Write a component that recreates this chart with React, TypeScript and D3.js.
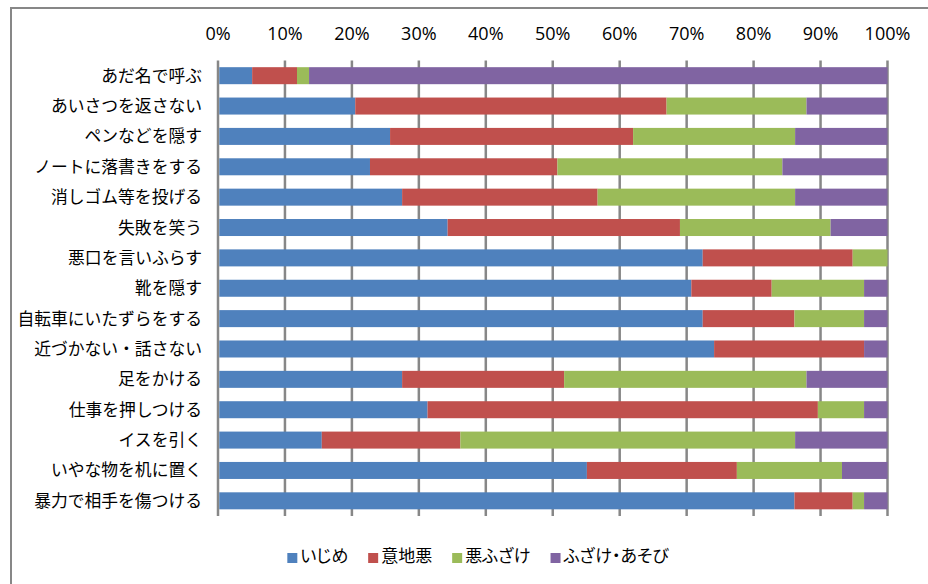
import React, { useLayoutEffect, useRef, useState } from "react";
import * as d3 from "d3";

// Categories, top to bottom
const categories = [
  "あだ名で呼ぶ",
  "あいさつを返さない",
  "ペンなどを隠す",
  "ノートに落書きをする",
  "消しゴム等を投げる",
  "失敗を笑う",
  "悪口を言いふらす",
  "靴を隠す",
  "自転車にいたずらをする",
  "近づかない・話さない",
  "足をかける",
  "仕事を押しつける",
  "イスを引く",
  "いやな物を机に置く",
  "暴力で相手を傷つける",
];

// Share of answers (%) per category
const ijime = [5.1, 20.5, 25.7, 22.7, 27.5, 34.3, 72.4, 70.7, 72.4, 74.1, 27.5, 31.3, 15.5, 55.1, 86.1];
const ijiwaru = [6.7, 46.5, 36.3, 28.0, 29.2, 34.7, 22.4, 12.0, 13.7, 22.4, 24.2, 58.3, 20.7, 22.4, 8.7];
const warufuzake = [1.8, 20.9, 24.2, 33.6, 29.5, 22.5, 5.2, 13.8, 10.4, 0, 36.2, 6.9, 50.0, 15.7, 1.7];
const asobi = [86.4, 12.1, 13.8, 15.7, 13.8, 8.5, 0, 3.5, 3.5, 3.5, 12.1, 3.5, 13.8, 6.8, 3.5];

const seriesNames = ["いじめ", "意地悪", "悪ふざけ", "ふざけ・あそび"];
const seriesColors = ["#4F81BD", "#C0504D", "#9BBB59", "#8064A2"];
const tickValues = [0, 0.1, 0.2, 0.3, 0.4, 0.5, 0.6, 0.7, 0.8, 0.9, 1];

const W = 928;
const H = 584;
const plot = { left: 218, right: 887.5, top: 60.5, bottom: 516 };

const jpFont = "'Noto Sans CJK JP', 'Noto Sans', sans-serif";
const numFont = "'Open Sans', 'Liberation Sans', sans-serif";

export default function App() {
  const rows = categories.map((c, i) => ({
    category: c,
    [seriesNames[0]]: ijime[i],
    [seriesNames[1]]: ijiwaru[i],
    [seriesNames[2]]: warufuzake[i],
    [seriesNames[3]]: asobi[i],
  }));

  const stacked = d3.stack<any>().keys(seriesNames).offset(d3.stackOffsetExpand)(rows);

  const x = d3.scaleLinear().domain([0, 1]).range([plot.left, plot.right]);
  const y = d3
    .scaleBand<string>()
    .domain(categories)
    .range([plot.top, plot.bottom])
    .paddingInner(0.44)
    .paddingOuter(0.22);

  // Legend layout: measured text widths, centred under the chart frame
  const legendRefs = useRef<(SVGTextElement | null)[]>([]);
  const [legendWidths, setLegendWidths] = useState<number[]>(seriesNames.map((s) => s.length * 16));
  useLayoutEffect(() => {
    const w = legendRefs.current.map((el, i) => (el ? el.getComputedTextLength() : seriesNames[i].length * 16));
    if (w.some((v, i) => Math.abs(v - legendWidths[i]) > 0.5)) setLegendWidths(w);
  }, []);
  const sw = 10;
  const swGap = 3;
  const itemGap = 20;
  const totalLegend = legendWidths.reduce((a, b) => a + b + sw + swGap, 0) + itemGap * (seriesNames.length - 1);
  const legendCenter = 478;
  let cursor = legendCenter - totalLegend / 2;
  const legendItems = seriesNames.map((name, i) => {
    const x0 = cursor;
    cursor += sw + swGap + legendWidths[i] + itemGap;
    return { name, color: seriesColors[i], x0 };
  });

  return (
    <svg
      width={W}
      height={H}
      style={{ position: "absolute", left: 0, top: 0, background: "#fff" }}
    >
      {/* chart frame */}
      <rect x={11} y={8} width={W + 40} height={H + 40} fill="#fff" stroke="#878787" strokeWidth={2} />

      {/* vertical gridlines */}
      {tickValues.map((t) => (
        <line
          key={t}
          x1={x(t)}
          x2={x(t)}
          y1={plot.top}
          y2={plot.bottom}
          stroke="#878787"
          strokeWidth={2.5}
        />
      ))}

      {/* percentage tick labels along the top */}
      {tickValues.map((t) => (
        <text
          key={"t" + t}
          x={x(t)}
          y={40}
          textAnchor="middle"
          fontFamily={numFont}
          fontSize={18}
          fill="#000"
        >
          {d3.format(".0%")(t)}
        </text>
      ))}

      {/* stacked bars */}
      {stacked.map((layer, si) => (
        <g key={layer.key} fill={seriesColors[si]}>
          {layer.map((d, i) => {
            const x0 = x(d[0]) + (d[0] === 0 ? 1.25 : 0);
            const x1 = x(d[1]);
            const w = x1 - x0;
            if (w <= 0) return null;
            return (
              <rect
                key={i}
                x={x0}
                y={y(categories[i])}
                width={w}
                height={y.bandwidth()}
              />
            );
          })}
        </g>
      ))}

      {/* category labels */}
      {categories.map((c) => (
        <text
          key={c}
          x={202}
          y={(y(c) as number) + y.bandwidth() / 2 + 6}
          textAnchor="end"
          fontFamily={jpFont}
          fontSize={16.8}
          fill="#000"
        >
          {c}
        </text>
      ))}

      {/* legend */}
      {legendItems.map((it, i) => (
        <g key={it.name}>
          <rect x={it.x0} y={553} width={sw} height={sw} fill={it.color} />
          <text
            ref={(el) => {
              legendRefs.current[i] = el;
            }}
            x={it.x0 + sw + swGap}
            y={561.5}
            fontFamily={jpFont}
            fontSize={17}
            style={{ fontFeatureSettings: "'palt'" }}
            fill="#000"
          >
            {it.name}
          </text>
        </g>
      ))}
    </svg>
  );
}
